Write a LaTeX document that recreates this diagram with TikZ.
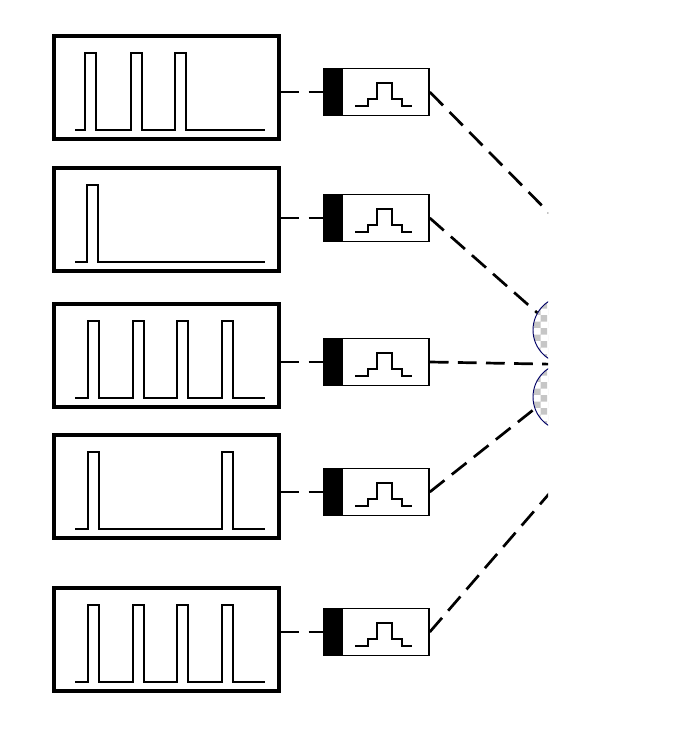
\documentclass[tikz,border=0pt]{standalone}
\usetikzlibrary{patterns}
\begin{document}
\begin{tikzpicture}[x=0.03cm, y=-0.03cm,
  scopebox/.style={draw, line width=3pt, minimum width=6.75cm, minimum height=3.1cm, inner sep=0pt, anchor=north west},
  filterbox/.style={draw, line width=1.5pt, minimum width=3.15cm, minimum height=1.41cm, inner sep=0pt, anchor=west},
  link/.style={line width=2.3pt, dash pattern=on 16pt off 8pt},
  sig/.style={line width=2.2pt}]

  \useasboundingbox (0,0) rectangle (672,740);
  \begin{scope}
  \clip (0,0) rectangle (548,740);

  % Fibre bundle at the right edge
  \node (top) [circle, draw=blue!40!black, line width=0.8pt, pattern=checkerboard, pattern color=gray!45, minimum size=2.04cm] at (567,330) {};
  \node (bot) [circle, draw=blue!40!black, line width=0.8pt, pattern=checkerboard, pattern color=gray!45, minimum size=2.04cm] at (567,397) {};
  \coordinate (aim1) at (567,231);
  \coordinate (aim5) at (567,473);

  % Scope screens, filters and pulse trains
  \foreach \i/\yt/\yf/\pl in {1/34/92/{85,131,175}, 2/166/218/{87}, 3/302/362/{88,133,177,222}, 4/433/492/{88,222}, 5/586/632/{88,133,177,222}} {
    \node (scr\i) [scopebox] at (52,\yt) {};
    \node (flt\i) [filterbox] at (323,\yf) {};
    \fill (flt\i.north west) rectangle ([xshift=0.6cm]flt\i.south west);
    \draw[sig] (355,\yf+14) -- ++(13,0) -- ++(0,-7) -- ++(9,0) -- ++(0,-16) -- ++(15,0) -- ++(0,16) -- ++(10,0) -- ++(0,7) -- ++(10,0);
    % pulses
    \pgfmathsetmacro\yb{\yt+96}
    \pgfmathsetmacro\yp{\yt+19}
    \draw[sig] (75,\yb) \foreach \p in \pl {-- (\p,\yb) -- (\p,\yp) -- (\p+11,\yp) -- (\p+11,\yb)} -- (265,\yb);
    \draw[link] (scr\i.east |- flt\i.west) -- (flt\i.west);
  }

  % Links to the bundle
  \draw[link] (flt1.east) -- (aim1);
  \draw[link] (flt2.east) -- (top.150);
  \draw[link] (flt3.east) -- (top.south);
  \draw[link] (flt4.east) -- (bot.200);
  \draw[link] (flt5.east) -- (aim5);
  \end{scope}

\end{tikzpicture}
\end{document}
